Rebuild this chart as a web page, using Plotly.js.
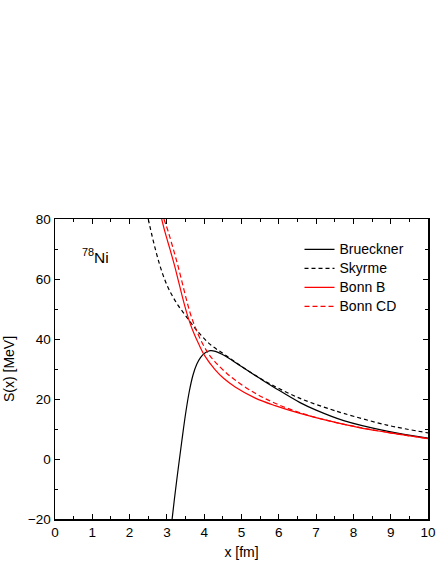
<!DOCTYPE html>
<html>
<head>
<meta charset="utf-8">
<script src="https://cdn.plot.ly/plotly-3.0.1.min.js"></script>
<style>
  html, body { margin: 0; padding: 0; background: #fff; }
  #chart { width: 436px; height: 564px; }
</style>
</head>
<body>
<div id="chart"></div>
<script>
// values (S(x) in MeV vs x in fm)
const bruecknerX = [3.14, 3.2, 3.3, 3.4, 3.5, 3.6, 3.7, 3.8, 3.9, 4.0, 4.16, 4.3, 4.45, 4.65, 5.0, 5.5, 5.9, 6.57, 7.0, 7.74, 8.9, 10.0];
const bruecknerY = [-20, -13.5, -3.5, 6, 15, 22.5, 28, 31.6, 33.8, 35.2, 36.1, 35.9, 35.1, 33.7, 30.8, 26.8, 23.7, 18.8, 16.3, 12.8, 9.3, 7.0];

const skyrmeX = [2.5, 2.6, 2.7, 2.8, 2.9, 3.0, 3.1, 3.2, 3.3, 3.44, 3.62, 3.76, 3.89, 4.16, 4.56, 5.0, 5.5, 5.8, 6.57, 7.38, 7.74, 8.9, 10.0];
const skyrmeY = [80, 74.5, 69.5, 65, 61.2, 58, 55.4, 53.2, 51.2, 48.8, 45.8, 43.5, 41.6, 38.2, 34.7, 30.9, 26.9, 24.8, 20.2, 16.6, 15.2, 11.3, 8.7];

const bonnBX = [2.86, 2.95, 3.09, 3.2, 3.31, 3.42, 3.53, 3.62, 3.71, 3.85, 4.02, 4.29, 4.52, 4.83, 5.37, 5.9, 6.57, 7.38, 8.18, 8.9, 10.0];
const bonnBY = [80, 75.6, 69.6, 64.7, 59.3, 53.8, 48.8, 45.3, 42.3, 38.4, 34.3, 29.8, 26.9, 24.0, 20.3, 17.8, 15.2, 12.6, 10.4, 8.9, 6.8];

const bonnCDX = [2.92, 3.04, 3.18, 3.29, 3.4, 3.51, 3.62, 3.71, 3.8, 3.95, 4.12, 4.29, 4.52, 4.83, 5.37, 5.9, 6.57, 7.38, 8.18, 8.9, 10.0];
const bonnCDY = [80, 75.6, 69.6, 64.7, 59.3, 53.8, 48.8, 45.5, 42.6, 38.6, 35.0, 32.4, 29.5, 26.3, 21.9, 18.6, 15.4, 12.6, 10.5, 8.9, 6.8];

const seriesNames = ["Brueckner", "Skyrme", "Bonn B", "Bonn CD"];

const FONT = "Liberation Sans, Arial, sans-serif";
// legend rows in the figure sit closer than plotly's default for 14px text,
// so the legend font is kept small and the label text is enlarged inline
const big = (s) => `<span style="font-size:14px">${s}</span>`;

const lineStyle = (color, dash) => ({ color, width: 1.2, dash, shape: "spline", smoothing: 1 });

const traces = [
  { x: bruecknerX, y: bruecknerY, name: big(seriesNames[0]), line: lineStyle("#000000", "solid") },
  { x: skyrmeX, y: skyrmeY, name: big(seriesNames[1]), line: lineStyle("#000000", "4px,3px") },
  { x: bonnBX, y: bonnBY, name: big(seriesNames[2]), line: lineStyle("#ff0000", "solid") },
  { x: bonnCDX, y: bonnCDY, name: big(seriesNames[3]), line: lineStyle("#ff0000", "5px,3px") },
].map((t) => ({ ...t, type: "scatter", mode: "lines" }));

const axisBase = {
  showline: true, linecolor: "#000", linewidth: 1.5, mirror: "allticks",
  ticks: "inside", ticklen: 5, tickwidth: 1, tickcolor: "#000",
  showgrid: false, zeroline: false,
  tickfont: { family: FONT, size: 13.5, color: "#000" },
};

const layout = {
  width: 436, height: 564,
  paper_bgcolor: "#fff", plot_bgcolor: "#fff",
  margin: { t: 219, r: 8, b: 45, l: 55 },
  font: { family: FONT, color: "#000" },
  xaxis: {
    ...axisBase, range: [0, 10], dtick: 1,
    minor: { ticks: "inside", dtick: 0.5, ticklen: 3, tickcolor: "#000" },
    title: { text: "x [fm]", font: { family: FONT, size: 14 }, standoff: 8 },
  },
  yaxis: {
    ...axisBase, range: [-20, 80], dtick: 20,
    minor: { ticks: "inside", dtick: 10, ticklen: 3, tickcolor: "#000" },
    title: { text: "S(x) [MeV]", font: { family: FONT, size: 14 }, standoff: 10 },
  },
  legend: {
    x: 0.6555, y: 0.947, xanchor: "left", yanchor: "top",
    bgcolor: "rgba(0,0,0,0)", borderwidth: 0,
    font: { family: FONT, size: 12, color: "#000" },
    tracegroupgap: 0,
  },
  annotations: [{
    text: "<sup>78</sup>Ni", xref: "paper", yref: "paper",
    x: 0.109, y: 0.877, xanchor: "center", yanchor: "middle",
    showarrow: false, font: { family: FONT, size: 15.5, color: "#000" },
  }],
};

Plotly.newPlot("chart", traces, layout, { displayModeBar: false, staticPlot: true });
</script>
</body>
</html>
